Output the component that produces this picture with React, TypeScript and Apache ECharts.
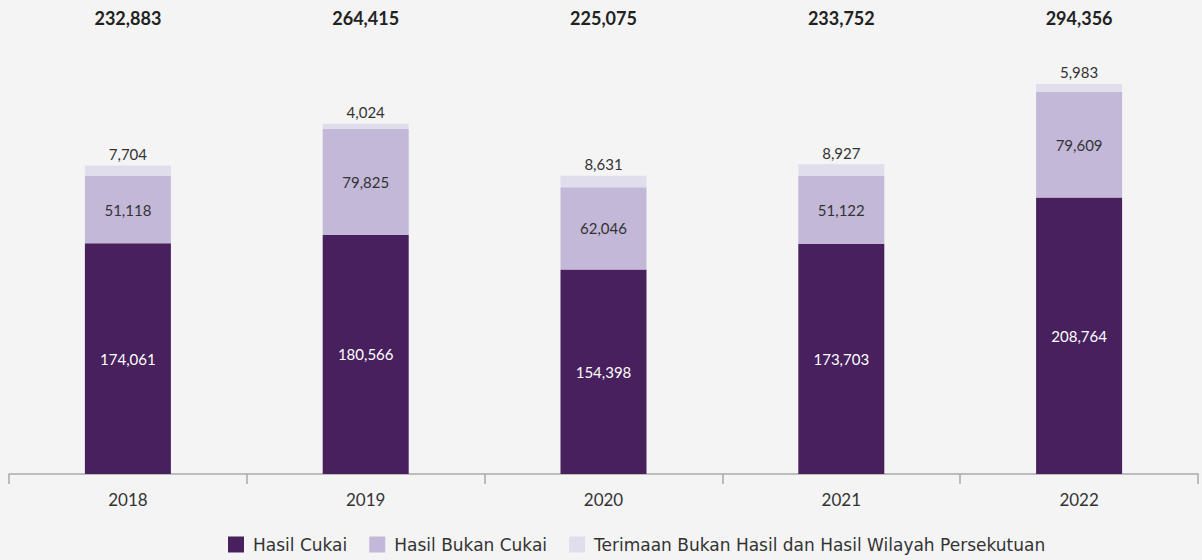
import React, { useEffect, useRef } from "react";
import * as echarts from "echarts";

const categories = ["2018", "2019", "2020", "2021", "2022"];
const hasilCukai = [174061, 180566, 154398, 173703, 208764];
const hasilBukanCukai = [51118, 79825, 62046, 51122, 79609];
const terimaan = [7704, 4024, 8631, 8927, 5983];
const seriesNames = [
  "Hasil Cukai",
  "Hasil Bukan Cukai",
  "Terimaan Bukan Hasil dan Hasil Wilayah Persekutuan",
];

const fmt = (v: number) => v.toLocaleString("en-US");

export default function App() {
  const ref = useRef<HTMLDivElement>(null);
  useEffect(() => {
    if (!ref.current) return;
    const chart = echarts.init(ref.current, null, { renderer: "svg" });
    const totals = categories.map(
      (_, i) => hasilCukai[i] + hasilBukanCukai[i] + terimaan[i]
    );
    const font = "Lato, 'Noto Sans', sans-serif";
    const legendFont = "'DejaVu Sans', 'Noto Sans', sans-serif";
    chart.setOption({
      animation: false,
      backgroundColor: "#f4f4f4",
      textStyle: { fontFamily: font },
      grid: { left: 9, right: 4, top: 76.5, bottom: 86, containLabel: false },
      legend: {
        bottom: 7,
        left: 228,
        itemWidth: 16,
        itemHeight: 16,
        itemGap: 22,
        icon: "rect",
        padding: 0,
        textStyle: {
          fontSize: 17,
          color: "#333",
          fontFamily: legendFont,
          padding: [0, 0, 0, 4],
        },
        data: seriesNames,
      },
      xAxis: [
        {
          type: "category",
          data: categories,
          axisLine: { show: true, lineStyle: { color: "#aaaaaa", width: 1.5 } },
          axisTick: {
            show: true,
            length: 10,
            lineStyle: { color: "#aaaaaa", width: 1.5 },
          },
          axisLabel: {
            fontSize: 17,
            color: "#333",
            margin: 17,
            fontFamily: font,
          },
        },
        {
          type: "category",
          position: "top",
          data: totals.map(fmt),
          axisLine: { show: false },
          axisTick: { show: false },
          axisLabel: {
            fontSize: 18,
            fontWeight: "bold",
            color: "#222",
            margin: 50,
            fontFamily: font,
          },
        },
      ],
      yAxis: {
        type: "value",
        min: 0,
        max: 300000,
        show: false,
        splitLine: { show: false },
      },
      series: [
        {
          name: seriesNames[0],
          type: "bar",
          stack: "t",
          barWidth: 86,
          data: hasilCukai,
          itemStyle: { color: "#48205e" },
          label: {
            show: true,
            position: "inside",
            color: "#ffffff",
            fontSize: 15,
            fontFamily: font,
            formatter: (p: any) => fmt(p.value),
          },
        },
        {
          name: seriesNames[1],
          type: "bar",
          stack: "t",
          barWidth: 86,
          data: hasilBukanCukai,
          itemStyle: { color: "#c3b8d8" },
          label: {
            show: true,
            position: "inside",
            color: "#333",
            fontSize: 15,
            fontFamily: font,
            formatter: (p: any) => fmt(p.value),
          },
        },
        {
          name: seriesNames[2],
          type: "bar",
          stack: "t",
          barWidth: 86,
          data: terimaan,
          itemStyle: { color: "#e0dded" },
          label: {
            show: true,
            position: "top",
            distance: 4,
            color: "#333",
            fontSize: 15,
            fontFamily: font,
            formatter: (p: any) => fmt(p.value),
          },
        },
      ],
    });
    return () => chart.dispose();
  }, []);
  return (
    <div
      ref={ref}
      style={{ position: "fixed", left: 0, top: 0, width: 1202, height: 560 }}
    />
  );
}
